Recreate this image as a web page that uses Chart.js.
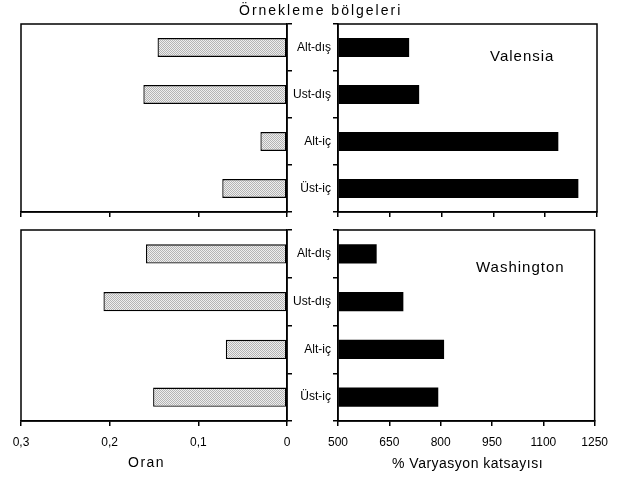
<!DOCTYPE html>
<html>
<head>
<meta charset="utf-8">
<script src="https://cdn.jsdelivr.net/npm/chart.js@4/dist/chart.umd.min.js"></script>
<style>
    html, body { margin: 0; padding: 0; background: #fff; }
    #page { position: relative; width: 617px; height: 481px; overflow: hidden; font-family: 'Liberation Sans', Arial, sans-serif; color: #000; }
    .box { position: absolute; }
    .txt { position: absolute; white-space: nowrap; line-height: 1; }
</style>
</head>
<body>
<div id="page">
    <div class="box" style="left:0;top:0;width:300px;height:230px"><canvas id="tlChart"></canvas></div>
    <div class="box" style="left:280px;top:0;width:337px;height:230px"><canvas id="trChart"></canvas></div>
    <div class="box" style="left:0;top:220px;width:300px;height:261px"><canvas id="blChart"></canvas></div>
    <div class="box" style="left:280px;top:220px;width:337px;height:261px"><canvas id="brChart"></canvas></div>

    <div class="txt" style="left:239px;top:3px;font-size:14px;letter-spacing:2px">Örnekleme bölgeleri</div>
    <div class="txt" style="left:490px;top:48px;font-size:15px;letter-spacing:1px">Valensia</div>
    <div class="txt" style="left:476px;top:259px;font-size:15px;letter-spacing:1px">Washington</div>
    <div class="txt" style="left:128px;top:455px;font-size:14px;letter-spacing:1.5px">Oran</div>
    <div class="txt" style="left:392px;top:456px;font-size:14px;letter-spacing:0.5px">% Varyasyon katsayısı</div>
</div>
<script>
// Data
const categories = ['Alt-dış', 'Ust-dış', 'Alt-iç', 'Üst-iç'];
const valensiaOran = [0.146, 0.162, 0.030, 0.073];
const valensiaCV = [706, 735, 1138, 1196];
const washingtonOran = [0.159, 0.207, 0.069, 0.151];
const washingtonCV = [613, 691, 810, 793];
const oranTicks = [0, 0.1, 0.2, 0.3];
const cvTicks = [500, 650, 800, 950, 1100, 1250];

const FONT = "'Liberation Sans', Arial, sans-serif";

// dotted grey fill like the scanned screen tone
function greyPattern() {
    const c = document.createElement('canvas');
    c.width = 2; c.height = 2;
    const g = c.getContext('2d');
    g.fillStyle = '#eeeeee';
    g.fillRect(0, 0, 2, 2);
    g.fillStyle = '#b4b4b4';
    g.fillRect(0, 0, 1, 1);
    g.fillRect(1, 1, 1, 1);
    return g.createPattern(c, 'repeat');
}

// closes the box round each panel
const frame = {
    id: 'frame',
    afterDraw(chart) {
        const a = chart.chartArea, ctx = chart.ctx;
        ctx.save();
        ctx.strokeStyle = '#000';
        ctx.lineWidth = 1.5;
        ctx.strokeRect(a.left, a.top, a.right - a.left, a.bottom - a.top);
        ctx.restore();
    }
};

function fixSize(prop, size) {
    return function(scale) { scale[prop] = size; };
}

function panel(id, opts) {
    const left = opts.side === 'left';
    const ticks = left ? oranTicks : cvTicks;
    new Chart(document.getElementById(id), {
        type: 'bar',
        data: {
            labels: categories,
            datasets: [{
                data: opts.values,
                backgroundColor: left ? greyPattern() : '#000',
                borderColor: '#000',
                borderWidth: left ? 1.3 : 0,
                borderSkipped: false,
                base: ticks[0],
                categoryPercentage: 1,
                barPercentage: 0.4
            }]
        },
        plugins: [frame],
        options: {
            indexAxis: 'y',
            responsive: true,
            maintainAspectRatio: false,
            animation: false,
            devicePixelRatio: 1,
            layout: { padding: opts.padding },
            plugins: { legend: { display: false }, tooltip: { enabled: false } },
            scales: {
                x: {
                    type: 'linear',
                    min: ticks[0],
                    max: ticks[ticks.length - 1],
                    reverse: left,
                    afterBuildTicks: function(scale) {
                        scale.ticks = ticks.map(v => ({ value: v }));
                    },
                    afterFit: fixSize('height', opts.xHeight),
                    border: { display: true, color: '#000', width: 1.5 },
                    grid: { drawOnChartArea: false, drawTicks: true, tickLength: 5, color: '#000', lineWidth: 1.5 },
                    ticks: {
                        display: opts.showX,
                        color: '#000',
                        padding: 9,
                        maxRotation: 0,
                        autoSkip: false,
                        font: { family: FONT, size: 12 },
                        callback: function(v) {
                            return left ? String(Math.round(v * 10) / 10).replace('.', ',') : String(v);
                        }
                    }
                },
                y: {
                    position: left ? 'right' : 'left',
                    offset: true,
                    afterFit: fixSize('width', left ? 13 : 58),
                    border: { display: true, color: '#000', width: 1.5 },
                    grid: { drawOnChartArea: false, drawTicks: true, tickLength: 5, color: '#000', lineWidth: 1.5, offset: true },
                    ticks: {
                        display: !left,
                        color: '#000',
                        padding: 2,
                        font: { family: FONT, size: 12 }
                    }
                }
            }
        }
    });
}

panel('tlChart', { side: 'left', values: valensiaOran, showX: false, xHeight: 10,
    padding: { left: 21, top: 24, right: 0, bottom: 8 } });
panel('trChart', { side: 'right', values: valensiaCV, showX: false, xHeight: 10,
    padding: { left: 0, top: 24, right: 20, bottom: 8 } });
panel('blChart', { side: 'left', values: washingtonOran, showX: true, xHeight: 30,
    padding: { left: 21, top: 10, right: 0, bottom: 30 } });
panel('brChart', { side: 'right', values: washingtonCV, showX: true, xHeight: 30,
    padding: { left: 0, top: 10, right: 20, bottom: 30 } });
</script>
</body>
</html>
